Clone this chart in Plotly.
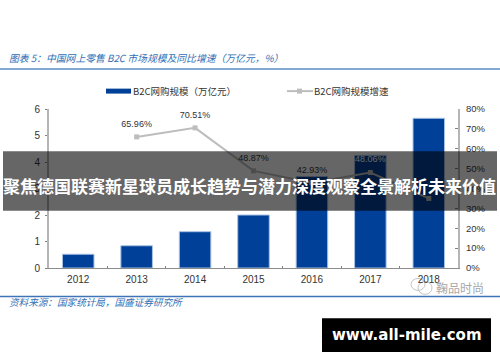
import plotly.graph_objects as go

years = ["2012", "2013", "2014", "2015", "2016", "2017", "2018"]
scale_values = [0.52, 0.84, 1.37, 2.0, 3.45, 4.25, 5.65]
growth_years = ["2013", "2014", "2015", "2016", "2017", "2018"]
growth_values = [65.96, 70.51, 48.87, 42.93, 48.06, 35.0]
growth_labels = ["65.96%", "70.51%", "48.87%", "42.93%", "48.06%", ""]
label_colors = ["#333333", "#333333", "#333333", "#333333", "#ffffff", "#333333"]
left_ticks = [0, 1, 2, 3, 4, 5, 6]
right_ticks = [0, 10, 20, 30, 40, 50, 60, 70, 80]
right_tick_labels = ["0%", "10%", "20%", "30%", "40%", "50%", "60%", "70%", "80%"]
bar_name = "B2C网购规模（万亿元）"
line_name = "B2C网购规模增速"

W, H = 500, 362
L, R, T, B = 49, 458, 108.5, 268.5
SANS = "Liberation Sans, Noto Sans CJK SC"
CJK = "Noto Sans CJK SC"
BAR = "#004098"
LINE = "#bdbdbd"

fig = go.Figure()
fig.add_trace(go.Bar(
    x=years, y=scale_values, name=bar_name, width=0.54,
    marker=dict(color=BAR, line=dict(color="#a9c2e4", width=1)),
))
fig.add_trace(go.Scatter(
    x=growth_years, y=growth_values, name=line_name, yaxis="y2", mode="lines+markers",
    line=dict(color=LINE, width=2), marker=dict(symbol="square", size=5, color=LINE),
))
# labels sit further above the points than the small markers would put them
fig.add_trace(go.Scatter(
    x=growth_years, y=growth_values, yaxis="y2", mode="markers+text", text=growth_labels,
    textposition="top center", textfont=dict(size=9, color=label_colors, family=SANS),
    marker=dict(size=11, opacity=0), hoverinfo="skip", cliponaxis=False,
))

def px(x): return (x - L) / (R - L)
def py(y): return (B - y) / (B - T)

def note(text, x, y, size, color, family=CJK, anchor="left"):
    fig.add_annotation(text=text, x=px(x), y=py(y), xref="paper", yref="paper",
                       xanchor=anchor, yanchor="middle", showarrow=False,
                       font=dict(size=size, color=color, family=family))

def rect(x0, y0, x1, y1, fill):
    fig.add_shape(type="rect", xref="paper", yref="paper", layer="above",
                  x0=px(x0), x1=px(x1), y0=py(y0), y1=py(y1),
                  fillcolor=fill, line_width=0)

def ring(x0, y0, x1, y1):
    fig.add_shape(type="circle", xref="paper", yref="paper", layer="below",
                  x0=px(x0), x1=px(x1), y0=py(y0), y1=py(y1),
                  fillcolor="rgba(0,0,0,0)", line=dict(color="#c4c4c4", width=1))

rect(0, 67.5, 500, 69, "#5b8cc4")
rect(0, 296.5, 500, 298, "#3f74b8")

# hand-built legend, for the reference's long swatches
rect(106, 88, 131, 93, BAR)
rect(287, 89.5, 313, 91.5, LINE)
rect(297, 88, 302, 93, LINE)
note(bar_name, 131, 90.5, 9.5, "#333333")
note(line_name, 312, 90.5, 9.5, "#333333")

ring(411, 279, 425, 291)
ring(418, 282, 432, 295)
note("鞠品时尚", 434, 288, 12, "#a8a8a8")

rect(3, 151, 497, 211, "rgba(0,0,0,0.6)")
rect(322, 319, 491, 353, "#000000")

note("<i>图表 5：中国网上零售 B2C 市场规模及同比增速（万亿元，%）</i>", 7, 57, 9.8, "#2f6fb5")
note("<i>资料来源：国家统计局，国盛证券研究所</i>", 7, 303, 9.6, "#2f6fb5")
note("<b>聚焦德国联赛新星球员成长趋势与潜力深度观察全景解析未来价值</b>", 249.5, 185, 17,
     "#ffffff", anchor="center")
note("<b>www.all-mile.com</b>", 406.5, 336, 15, "#ffffff", family="DejaVu Sans", anchor="center")

fig.update_layout(
    width=W, height=H, margin=dict(l=L, r=W - R, t=T, b=H - B),
    paper_bgcolor="white", plot_bgcolor="white", showlegend=False,
    font=dict(family=SANS, size=10, color="#333333"),
    xaxis=dict(type="category", categoryorder="array", categoryarray=years,
               range=[-0.5, 6.5], showgrid=False, showline=True, linecolor="#8c8c8c",
               linewidth=1, ticks="inside", ticklen=2, tickcolor="#808080",
               tickson="boundaries", ticklabelstandoff=2, tickfont=dict(size=10, color="#333333")),
    yaxis=dict(range=[0, 6], tickvals=left_ticks, showgrid=False, zeroline=False, showline=True,
               linecolor="#b5b5b5", linewidth=2, ticks="outside", ticklen=2, tickcolor="#808080",
               ticklabelstandoff=3, tickfont=dict(size=10, color="#333333")),
    yaxis2=dict(range=[0, 80], overlaying="y", side="right", tickvals=right_ticks,
                ticktext=right_tick_labels, showgrid=False, zeroline=False, showline=True,
                linecolor="#b5b5b5", linewidth=2, ticks="inside", ticklen=3, tickcolor="#808080",
                ticklabelstandoff=4, tickfont=dict(size=9.5, color="#333333")),
)

fig.write_html("out.html", config={"displayModeBar": False},
               post_script="document.body.style.margin='0';")
